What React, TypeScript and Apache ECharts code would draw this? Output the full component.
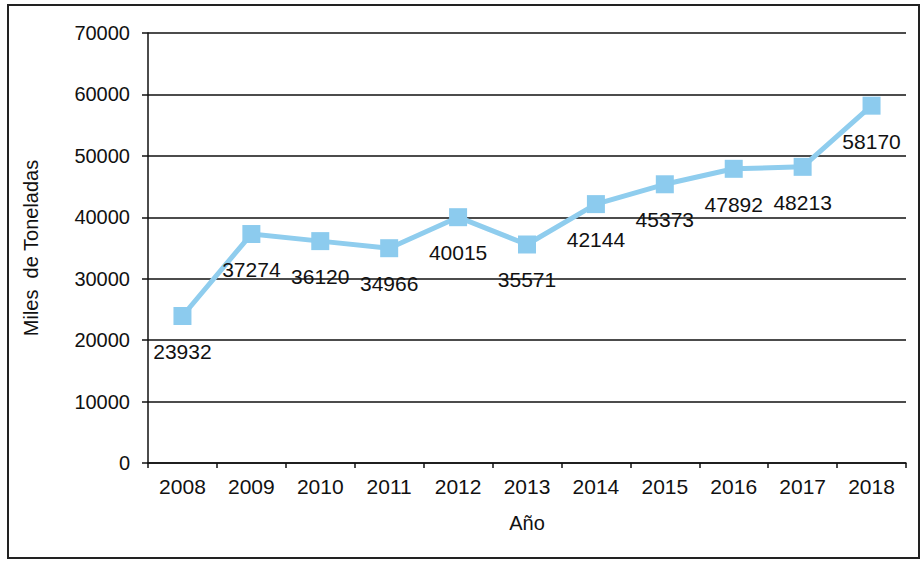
import React, { useEffect, useRef } from "react";
import * as echarts from "echarts";

const years = ["2008", "2009", "2010", "2011", "2012", "2013", "2014", "2015", "2016", "2017", "2018"];
const tonnes = [23932, 37274, 36120, 34966, 40015, 35571, 42144, 45373, 47892, 48213, 58170];
const yAxisTitle = "Miles  de Toneladas";
const xAxisTitle = "Año";

export default function App() {
  const ref = useRef<HTMLDivElement>(null);
  useEffect(() => {
    if (!ref.current) return;
    const chart = echarts.init(ref.current, null, { renderer: "svg" });
    const font = "Liberation Sans, Arial, sans-serif";
    chart.setOption({
      animation: false,
      backgroundColor: "#ffffff",
      textStyle: { fontFamily: font },
      graphic: [
        {
          type: "rect",
          shape: { x: 8, y: 5, width: 911, height: 553 },
          style: { fill: "none", stroke: "#222", lineWidth: 2 },
          silent: true,
        },
      ],
      grid: { left: 148, right: 16, top: 33, bottom: 99 },
      xAxis: {
        type: "category",
        data: years,
        boundaryGap: true,
        axisLine: { lineStyle: { color: "#111", width: 1.5 } },
        axisTick: { show: true, length: 5, lineStyle: { color: "#111", width: 1.5 } },
        axisLabel: { color: "#111", fontSize: 21, fontFamily: font, margin: 13 },
        name: xAxisTitle,
        nameLocation: "middle",
        nameGap: 50,
        nameTextStyle: { color: "#111", fontSize: 20, fontFamily: font },
      },
      yAxis: {
        type: "value",
        min: 0,
        max: 70000,
        interval: 10000,
        axisLine: { show: true, lineStyle: { color: "#111", width: 1.5 } },
        axisTick: { show: true, length: 6, lineStyle: { color: "#111", width: 1.5 } },
        axisLabel: {
          color: "#111",
          fontSize: 20,
          fontFamily: font,
          margin: 18,
          formatter: (v: number) => String(v),
        },
        splitLine: { show: true, lineStyle: { color: "#111", width: 1.5 } },
        name: yAxisTitle,
        nameLocation: "middle",
        nameRotate: 90,
        nameGap: 107,
        nameTextStyle: { color: "#111", fontSize: 20, fontFamily: font },
      },
      series: [
        {
          type: "line",
          data: tonnes,
          symbol: "rect",
          symbolSize: 18,
          lineStyle: { color: "#8fcdee", width: 5 },
          itemStyle: { color: "#8ccbee" },
          label: {
            show: true,
            position: "bottom",
            distance: 16,
            color: "#111",
            fontSize: 21,
            fontFamily: font,
          },
        },
      ],
    });
    return () => chart.dispose();
  }, []);
  return (
    <div
      ref={ref}
      style={{ position: "absolute", left: 0, top: 0, width: 922, height: 562 }}
    />
  );
}
